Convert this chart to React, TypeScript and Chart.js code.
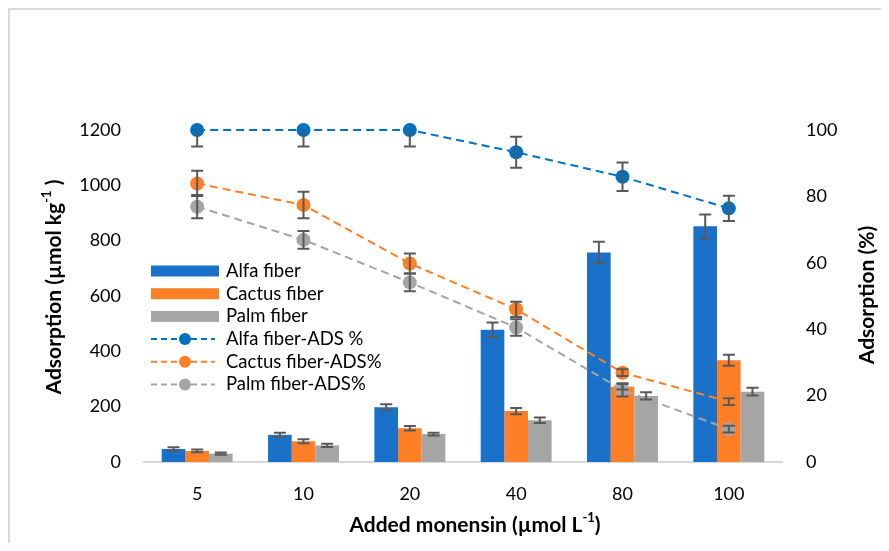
import React, { useEffect, useRef } from 'react';
import { Chart, registerables } from 'chart.js';

Chart.register(...registerables);

// ---- data ----
const categories = ['5', '10', '20', '40', '80', '100'];

const alfaFiber = [47, 98, 198, 478, 757, 852];
const alfaFiberErr = [6, 8, 11, 26, 39, 43];
const cactusFiber = [40, 75, 122, 184, 272, 368];
const cactusFiberErr = [5, 7, 8, 11, 10, 20];
const palmFiber = [30, 60, 101, 151, 239, 254];
const palmFiberErr = [4, 6, 5, 10, 13, 14];

const alfaAds = [100, 100, 100, 93.3, 85.9, 76.4];
const alfaAdsErr = [5, 5, 5, 4.7, 4.3, 3.8];
const cactusAds = [83.9, 77.4, 59.8, 46.0, 26.9, 18.2];
const cactusAdsErr = [3.8, 4, 3, 2.3, 1, 1];
const palmAds = [76.9, 66.9, 54.1, 40.5, 21.7, 9.9];
const palmAdsErr = [3.5, 2.7, 2.7, 2.5, 2, 1];

const leftTicks = [0, 200, 400, 600, 800, 1000, 1200];
const rightTicks = [0, 20, 40, 60, 80, 100];

const seriesNames = [
  'Alfa fiber',
  'Cactus fiber',
  'Palm fiber',
  'Alfa fiber-ADS %',
  'Cactus fiber-ADS%',
  'Palm fiber-ADS%',
];

const BLUE_BAR = '#1a71c9';
const ORANGE_BAR = '#ff7f27';
const GRAY_BAR = '#a5a5a5';
const BLUE_LINE = '#0070c0';
const ORANGE_LINE = '#ff7f27';
const GRAY_LINE = '#a5a5a5';
const ERR = '#595959';
const FONT = 'Lato, "Open Sans", sans-serif';

type Part = { t: string; sup?: boolean };

function drawRich(ctx: CanvasRenderingContext2D, parts: Part[], size: number, cx: number, cy: number, angle: number) {
  ctx.save();
  ctx.translate(cx, cy);
  ctx.rotate(angle);
  const normal = `bold ${size}px ${FONT}`;
  const small = `bold ${Math.round(size * 0.62)}px ${FONT}`;
  let total = 0;
  const widths = parts.map((p) => {
    ctx.font = p.sup ? small : normal;
    const w = ctx.measureText(p.t).width;
    total += w;
    return w;
  });
  let x = -total / 2;
  ctx.fillStyle = '#000';
  ctx.textBaseline = 'middle';
  ctx.textAlign = 'left';
  parts.forEach((p, i) => {
    ctx.font = p.sup ? small : normal;
    ctx.fillText(p.t, x, p.sup ? -size * 0.33 : 0);
    x += widths[i];
  });
  ctx.restore();
}

export default function App() {
  const ref = useRef<HTMLCanvasElement>(null);

  useEffect(() => {
    if (!ref.current) return;

    const errorBars = {
      id: 'errorBars',
      afterDatasetsDraw(chart: any) {
        const ctx = chart.ctx as CanvasRenderingContext2D;
        const area = chart.chartArea;
        ctx.save();
        ctx.beginPath();
        ctx.rect(area.left - 20, area.top, area.right - area.left + 40, area.bottom - area.top);
        ctx.clip();
        ctx.strokeStyle = ERR;
        ctx.lineWidth = 2;
        chart.data.datasets.forEach((ds: any, i: number) => {
          const meta = chart.getDatasetMeta(i);
          const scale = chart.scales[ds.yAxisID];
          ds.data.forEach((v: number, j: number) => {
            const e = ds.errors[j];
            const x = meta.data[j].x;
            const y1 = scale.getPixelForValue(v + e);
            const y2 = scale.getPixelForValue(v - e);
            ctx.beginPath();
            ctx.moveTo(x, y1);
            ctx.lineTo(x, y2);
            ctx.moveTo(x - 6, y1);
            ctx.lineTo(x + 6, y1);
            ctx.moveTo(x - 6, y2);
            ctx.lineTo(x + 6, y2);
            ctx.stroke();
          });
        });
        ctx.restore();
      },
    };

    const decor = {
      id: 'decor',
      afterDraw(chart: any) {
        const ctx = chart.ctx as CanvasRenderingContext2D;
        const area = chart.chartArea;
        // legend
        const x0 = area.left + 7;
        const rowTop = area.top + 141;
        const step = 22.7;
        const ds = chart.data.datasets;
        ctx.save();
        ctx.textBaseline = 'middle';
        ctx.textAlign = 'left';
        ctx.font = `18.5px ${FONT}`;
        seriesNames.forEach((name, i) => {
          const d = ds[i];
          const cy = rowTop + i * step;
          if (d.type === 'line') {
            ctx.strokeStyle = d.borderColor;
            ctx.lineWidth = 2;
            ctx.setLineDash([6, 4]);
            ctx.beginPath();
            ctx.moveTo(x0, cy);
            ctx.lineTo(x0 + 64, cy);
            ctx.stroke();
            ctx.setLineDash([]);
            ctx.fillStyle = d.pointBackgroundColor;
            ctx.beginPath();
            ctx.arc(x0 + 34, cy, 6, 0, Math.PI * 2);
            ctx.fill();
          } else {
            ctx.fillStyle = d.backgroundColor;
            ctx.fillRect(x0, cy - 5.5, 68, 11);
          }
          ctx.fillStyle = '#000';
          ctx.fillText(name, x0 + 75, cy);
        });
        ctx.restore();

        // axis titles
        drawRich(ctx, [{ t: 'Adsorption (µmol kg' }, { t: '-1', sup: true }, { t: ' )' }], 21, 44, 277, -Math.PI / 2);
        drawRich(ctx, [{ t: 'Adsorption (%)' }], 21, 857, 285, -Math.PI / 2);
        drawRich(ctx, [{ t: 'Added monensin (µmol L' }, { t: '-1', sup: true }, { t: ')' }], 21, 465, 515, 0);
      },
    };

    const tickFmt = (v: any) => String(v);

    const chart = new Chart(ref.current, {
      type: 'bar',
      data: {
        labels: categories,
        datasets: [
          { type: 'bar', label: seriesNames[0], data: alfaFiber, errors: alfaFiberErr, backgroundColor: BLUE_BAR, yAxisID: 'y', order: 2 } as any,
          { type: 'bar', label: seriesNames[1], data: cactusFiber, errors: cactusFiberErr, backgroundColor: ORANGE_BAR, yAxisID: 'y', order: 2 } as any,
          { type: 'bar', label: seriesNames[2], data: palmFiber, errors: palmFiberErr, backgroundColor: GRAY_BAR, yAxisID: 'y', order: 2 } as any,
          {
            type: 'line', label: seriesNames[3], data: alfaAds, errors: alfaAdsErr, yAxisID: 'y1', order: 1,
            borderColor: BLUE_LINE, borderWidth: 2, borderDash: [8, 5], pointRadius: 7, pointBackgroundColor: BLUE_LINE,
            pointBorderWidth: 0, fill: false, clip: false, tension: 0,
          } as any,
          {
            type: 'line', label: seriesNames[4], data: cactusAds, errors: cactusAdsErr, yAxisID: 'y1', order: 1,
            borderColor: ORANGE_LINE, borderWidth: 2, borderDash: [8, 5], pointRadius: 7, pointBackgroundColor: ORANGE_LINE,
            pointBorderWidth: 0, fill: false, clip: false, tension: 0,
          } as any,
          {
            type: 'line', label: seriesNames[5], data: palmAds, errors: palmAdsErr, yAxisID: 'y1', order: 1,
            borderColor: GRAY_LINE, borderWidth: 2, borderDash: [8, 5], pointRadius: 7, pointBackgroundColor: GRAY_LINE,
            pointBorderWidth: 0, fill: false, clip: false, tension: 0,
          } as any,
        ],
      },
      options: {
        responsive: false,
        animation: false,
        events: [],
        layout: { padding: { top: 120, left: 0, right: 0, bottom: 0 } },
        datasets: { bar: { categoryPercentage: 0.667, barPercentage: 1 } },
        plugins: { legend: { display: false }, tooltip: { enabled: false }, title: { display: false } },
        scales: {
          x: {
            grid: { display: false, drawTicks: false },
            border: { display: true, color: '#d9d9d9', width: 2 },
            ticks: { color: '#000', font: { family: FONT, size: 18 }, padding: 21 },
            afterFit: (s: any) => { s.height = 81; },
          },
          y: {
            position: 'left',
            min: 0,
            max: 1200,
            afterBuildTicks: (s: any) => { s.ticks = leftTicks.map((v) => ({ value: v })); },
            grid: { display: false, drawTicks: false },
            border: { display: false },
            ticks: { color: '#000', font: { family: FONT, size: 18 }, padding: 23, callback: tickFmt },
            afterFit: (s: any) => { s.width = 134; },
          },
          y1: {
            position: 'right',
            min: 0,
            max: 100,
            afterBuildTicks: (s: any) => { s.ticks = rightTicks.map((v) => ({ value: v })); },
            grid: { display: false, drawTicks: false },
            border: { display: false },
            ticks: { color: '#000', font: { family: FONT, size: 18 }, padding: 24, callback: tickFmt },
            afterFit: (s: any) => { s.width = 99; },
          },
        },
      } as any,
      plugins: [errorBars, decor],
    });
    return () => chart.destroy();
  }, []);

  return (
    <div
      style={{
        width: 873,
        height: 535,
        borderTop: '2px solid #d9d9d9',
        borderLeft: '2px solid #d9d9d9',
        boxSizing: 'border-box',
        background: '#fff',
      }}
    >
      <canvas ref={ref} width={871} height={533} style={{ display: 'block' }} />
    </div>
  );
}
